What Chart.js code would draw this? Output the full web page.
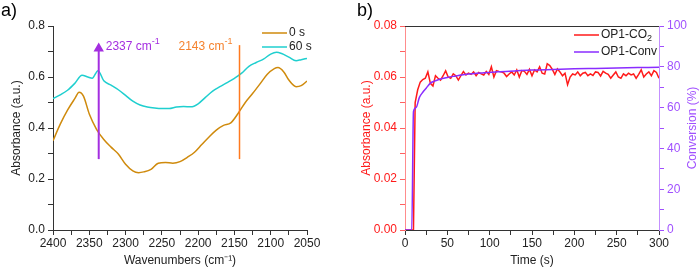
<!DOCTYPE html>
<html>
<head>
<meta charset="utf-8">
<script src="https://cdn.jsdelivr.net/npm/chart.js@4.4.1/dist/chart.umd.min.js"></script>
<style>
body{margin:0;background:#fff;font-family:"Liberation Sans",Arial,sans-serif;}
#wrap{position:relative;width:700px;height:269px;overflow:hidden;}
.pane{position:absolute;top:0;width:350px;height:269px;}
.tag{position:absolute;top:0;font-size:18px;color:#000;}
</style>
</head>
<body>
<div id="wrap">
  <div class="pane" style="left:0"><canvas id="chartA" width="350" height="269"></canvas></div>
  <div class="pane" style="left:350px"><canvas id="chartB" width="350" height="269"></canvas></div>
  <div class="tag" style="left:1px">a)</div>
  <div class="tag" style="left:357px">b)</div>
</div>
<script>
// panel a: IR spectra
var wnA0 = [2400,2390,2380,2370,2364,2358,2350,2340,2330,2320,2310,2300,2290,2282,2275,2265,2255,2245,2235,2225,2215,2205,2195,2185,2175,2165,2155,2145,2135,2125,2115,2105,2095,2090,2082,2075,2065,2058,2050];
var absA0 = [0.350,0.415,0.470,0.515,0.540,0.525,0.455,0.395,0.355,0.325,0.298,0.258,0.232,0.225,0.228,0.238,0.262,0.265,0.262,0.268,0.285,0.305,0.335,0.365,0.392,0.410,0.420,0.457,0.500,0.535,0.572,0.610,0.633,0.637,0.620,0.588,0.562,0.566,0.584];
var wnA60 = [2400,2390,2380,2370,2360,2352,2346,2338,2330,2320,2310,2300,2290,2280,2270,2260,2250,2240,2230,2220,2210,2200,2190,2180,2170,2160,2150,2140,2130,2120,2110,2100,2092,2085,2075,2065,2058,2050];
var absA60 = [0.515,0.530,0.548,0.575,0.607,0.600,0.595,0.625,0.585,0.568,0.550,0.528,0.505,0.490,0.482,0.478,0.476,0.476,0.482,0.484,0.483,0.495,0.520,0.545,0.562,0.578,0.595,0.615,0.642,0.657,0.670,0.690,0.697,0.692,0.678,0.664,0.668,0.673];
var peakWn = [2337, 2143];
var peakLow = [0.278, 0.278];
var peakHigh = [0.712, 0.725];
var peakText = ['2337 cm', '2143 cm'];

// panel b: time series
var timeB = [0,4,8,10,12,15,18,21,24,27,30,33,36,39,42,45,48,51,54,57,60,63,66,69,72,75,78,81,84,87,90,93,96,99,102,105,108,111,114,117,120,123,126,129,132,135,138,141,144,147,150,153,156,159,162,165,168,171,174,177,180,183,186,189,192,195,198,201,204,207,210,213,216,219,222,225,228,231,234,237,240,243,246,249,252,255,258,261,264,267,270,273,276,279,282,285,288,291,294,297,300];
var co2B = [0,0,0,0,0.050,0.055,0.058,0.059,0.0595,0.062,0.0575,0.0565,0.0605,0.0595,0.0588,0.0605,0.0624,0.0600,0.0595,0.0612,0.0605,0.0588,0.0605,0.0621,0.0608,0.0615,0.0610,0.0620,0.0605,0.0618,0.0612,0.0608,0.0622,0.0610,0.0640,0.0600,0.0625,0.0622,0.0620,0.0615,0.0602,0.0612,0.0620,0.0608,0.0628,0.0600,0.0625,0.0622,0.0610,0.0630,0.0605,0.0628,0.0620,0.0640,0.0615,0.0612,0.0652,0.0645,0.0630,0.0610,0.0632,0.0620,0.0605,0.0615,0.0570,0.0600,0.0612,0.0608,0.0620,0.0605,0.0615,0.0618,0.0605,0.0612,0.0606,0.0620,0.0618,0.0604,0.0622,0.0615,0.0610,0.0595,0.0608,0.0620,0.0600,0.0595,0.0612,0.0605,0.0615,0.0608,0.0612,0.0595,0.0610,0.0628,0.0600,0.0612,0.0620,0.0605,0.0625,0.0618,0.0595];
var timeConv = [0,8,10,13,17,21,25,30,35,40,50,60,75,90,110,130,150,175,200,225,250,275,300];
var convB = [0,0,58,60,65,67.5,69.5,72,73,73.8,74.8,75.5,76.5,77,77.6,78,78.4,78.7,79,79.2,79.4,79.6,79.8];

var FONT = '"Liberation Sans", Arial, sans-serif';
Chart.defaults.font.family = FONT;
Chart.defaults.font.size = 12;
Chart.defaults.color = '#222';
Chart.defaults.animation = false;

function pts(xs, ys){ return xs.map(function(x, i){ return {x: x, y: ys[i]}; }); }

function axis(color, tickColor){
  return {
    border: {display: true, color: color, width: 1},
    grid: {display: true, drawOnChartArea: false, drawTicks: true, tickLength: 5, tickColor: tickColor || color}
  };
}

function supText(ctx, x, y, txt, sup, align){
  ctx.font = '12px ' + FONT;
  var w = ctx.measureText(txt).width;
  ctx.font = '9px ' + FONT;
  var ws = ctx.measureText(sup).width;
  var left = align === 'right' ? x - w - ws : x;
  ctx.font = '12px ' + FONT;
  ctx.fillText(txt, left, y);
  ctx.font = '9px ' + FONT;
  ctx.fillText(sup, left + w, y - 5);
}

function subText(ctx, x, y, txt, sub){
  ctx.font = '12px ' + FONT;
  ctx.fillText(txt, x, y);
  if (sub){
    var w = ctx.measureText(txt).width;
    ctx.font = '9px ' + FONT;
    ctx.fillText(sub, x + w, y + 4);
  }
}

function drawLegend(ctx, x0, y0, items){
  items.forEach(function(it, i){
    var y = y0 + i * it.gap;
    ctx.strokeStyle = it.color;
    ctx.lineWidth = 1.5;
    ctx.beginPath();
    ctx.moveTo(x0, y);
    ctx.lineTo(x0 + 25, y);
    ctx.stroke();
    ctx.fillStyle = '#222';
    subText(ctx, x0 + 27, y, it.text, it.sub);
  });
}

var plugA = {
  id: 'plugA',
  afterDatasetsDraw: function(chart){
    var ctx = chart.ctx, ca = chart.chartArea, sx = chart.scales.x, sy = chart.scales.y;
    ctx.save();
    ctx.textBaseline = 'middle';
    ctx.textAlign = 'left';
    ctx.fillStyle = '#a42ee0';
    supText(ctx, sx.getPixelForValue(peakWn[0]) + 7, sy.getPixelForValue(0.72), peakText[0], '-1', 'left');
    ctx.fillStyle = '#f5822e';
    supText(ctx, sx.getPixelForValue(peakWn[1]) - 7, sy.getPixelForValue(0.72), peakText[1], '-1', 'right');
    drawLegend(ctx, ca.right - 45, ca.top + 7, [
      {text: '0 s', color: '#cf8a0c', gap: 14},
      {text: '60 s', color: '#1fcfcf', gap: 14}
    ]);
    ctx.restore();
  }
};

var plugB = {
  id: 'plugB',
  afterDatasetsDraw: function(chart){
    var ctx = chart.ctx, ca = chart.chartArea;
    ctx.save();
    ctx.strokeStyle = '#333';
    ctx.lineWidth = 1;
    ctx.beginPath();
    ctx.moveTo(ca.left, ca.top + 0.5);
    ctx.lineTo(ca.right, ca.top + 0.5);
    ctx.stroke();
    ctx.textBaseline = 'middle';
    ctx.textAlign = 'left';
    drawLegend(ctx, ca.right - 85, ca.top + 9, [
      {text: 'OP1-CO', sub: '2', color: '#ff1a1a', gap: 17},
      {text: 'OP1-Conv', color: '#8a2cff', gap: 17}
    ]);
    ctx.translate(343, (ca.top + ca.bottom) / 2);
    ctx.rotate(-Math.PI / 2);
    ctx.textAlign = 'center';
    ctx.fillStyle = '#a050ff';
    ctx.font = '12px ' + FONT;
    ctx.fillText('Conversion (%)', 0, 0);
    ctx.restore();
  }
};

new Chart(document.getElementById('chartA'), {
  type: 'line',
  data: {
    datasets: [
      {data: pts([peakWn[0], peakWn[0]], [peakLow[0], peakHigh[0]]), borderColor: '#a42ee0', backgroundColor: '#a42ee0', borderWidth: 2,
       pointRadius: [0, 4], pointStyle: 'triangle', order: 0},
      {data: pts([peakWn[1], peakWn[1]], [peakLow[1], peakHigh[1]]), borderColor: '#ff7a1f', borderWidth: 1.5, pointRadius: 0, order: 0},
      {data: pts(wnA0, absA0), borderColor: '#cf8a0c', borderWidth: 1.5, pointRadius: 0, cubicInterpolationMode: 'monotone', order: 2},
      {data: pts(wnA60, absA60), borderColor: '#1fcfcf', borderWidth: 1.5, pointRadius: 0, cubicInterpolationMode: 'monotone', order: 1}
    ]
  },
  options: {
    responsive: false,
    layout: {padding: {top: 26, right: 43, left: 0, bottom: 0}},
    plugins: {legend: {display: false}, tooltip: {enabled: false}},
    scales: {
      x: Object.assign(axis('#333'), {
        type: 'linear', reverse: true, min: 2050, max: 2400,
        afterFit: function(s){ s.height = 39; },
        ticks: {stepSize: 25, autoSkip: false, maxRotation: 0, padding: 1, color: '#222',
          callback: function(v){ return v % 50 === 0 ? String(v) : ''; }},
        title: {display: true, text: 'Wavenumbers (cm\u207B\u00B9)', padding: {top: 0, bottom: 1}, color: '#222'}
      }),
      y: Object.assign(axis('#333'), {
        min: 0, max: 0.8,
        afterFit: function(s){ s.width = 53; },
        ticks: {stepSize: 0.1, autoSkip: false, padding: 3, color: '#222',
          callback: function(v){ return Math.round(v * 10) % 2 === 0 ? v.toFixed(1) : ''; }},
        title: {display: true, text: 'Absorbance (a.u.)', padding: {top: 9, bottom: 0}, color: '#222'}
      })
    }
  },
  plugins: [plugA]
});

new Chart(document.getElementById('chartB'), {
  type: 'line',
  data: {
    datasets: [
      {data: pts(timeB, co2B), yAxisID: 'y', borderColor: '#ff1a1a', borderWidth: 1.5, pointRadius: 0, tension: 0, order: 2},
      {data: pts(timeConv, convB), yAxisID: 'y2', borderColor: '#8a2cff', borderWidth: 1.5, pointRadius: 0, cubicInterpolationMode: 'monotone', order: 1}
    ]
  },
  options: {
    responsive: false,
    layout: {padding: {top: 26, right: 0, left: 0, bottom: 0}},
    plugins: {legend: {display: false}, tooltip: {enabled: false}},
    scales: {
      x: Object.assign(axis('#333'), {
        type: 'linear', min: 0, max: 300,
        afterFit: function(s){ s.height = 39; },
        ticks: {stepSize: 25, autoSkip: false, maxRotation: 0, padding: 1, color: '#222',
          callback: function(v){ return v % 50 === 0 ? String(v) : ''; }},
        title: {display: true, text: 'Time (s)', padding: {top: 0, bottom: 1}, color: '#222'}
      }),
      y: Object.assign(axis('#ff8c8c', '#ff6060'), {
        position: 'left', min: 0, max: 0.08,
        afterFit: function(s){ s.width = 55; },
        ticks: {stepSize: 0.01, autoSkip: false, padding: 3, color: '#ff1a1a',
          callback: function(v){ return Math.round(v * 100) % 2 === 0 ? v.toFixed(2) : ''; }},
        title: {display: true, text: 'Absorbance (a.u.)', padding: {top: 9, bottom: 0}, color: '#ff1a1a'}
      }),
      y2: Object.assign(axis('#c490ff', '#a050ff'), {
        position: 'right', min: 0, max: 100,
        afterFit: function(s){ s.width = 41; },
        ticks: {stepSize: 10, autoSkip: false, padding: 3, color: '#a050ff',
          callback: function(v){ return v % 20 === 0 ? String(v) : ''; }}
      })
    }
  },
  plugins: [plugB]
});
</script>
</body>
</html>
